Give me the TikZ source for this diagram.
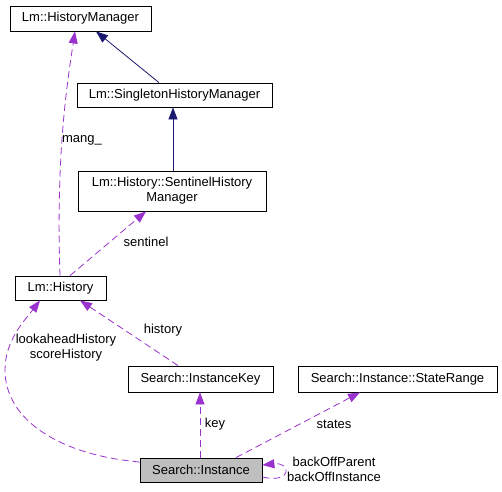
\documentclass[tikz,border=0pt]{standalone}
\usepackage{fontspec}
\setmainfont{Liberation Sans}
\usetikzlibrary{arrows.meta}
\usetikzlibrary{positioning}
\definecolor{inherit}{HTML}{191970}
\definecolor{member}{HTML}{9A32CD}
\definecolor{current}{HTML}{BFBFBF}
\tikzset{
  klass/.style={draw=black, thick, inner sep=0pt, align=center,
    font=\fontsize{13}{15}\selectfont},
  base/.style={draw=inherit, thick, -{Triangle[length=12pt,width=9pt]}},
  uses/.style={draw=member, thick, dash pattern=on 7pt off 4pt,
    -{Triangle[length=12pt,width=9pt,fill=member]}},
  elabel/.style={inner sep=0pt, align=center, font=\fontsize{13}{15}\selectfont}
}
\begin{document}
\begin{tikzpicture}[x=1pt, y=-1pt]
    \useasboundingbox (0,0) rectangle (502,491);

    \node [klass, minimum width=141pt, minimum height=25pt] (hm) at (80.5,18.5) {Lm::HistoryManager};
    \node [klass, minimum width=195pt, minimum height=24pt] (shm) at (174.5,95) {Lm::SingletonHistoryManager};
    \node [klass, minimum width=188pt, minimum height=40pt] (sent) at (172,191) {Lm::History::SentinelHistory\\Manager};
    \node [klass, minimum width=91pt, minimum height=24pt] (hist) at (60.5,288) {Lm::History};
    \node [klass, minimum width=145pt, minimum height=26pt] (ikey) at (200.5,379) {Search::InstanceKey};
    \node [klass, minimum width=199pt, minimum height=26pt] (srange) at (397.5,379) {Search::Instance::StateRange};
    \node [klass, fill=current, minimum width=122pt, minimum height=24pt] (inst) at (201,470) {Search::Instance};

    \draw [base] (shm.north -| 159,0) -- (hm.south -| 96,0);
    \draw [base] (sent.north -| 173,0) -- (shm.south -| 173,0);

    \draw [uses] (hist.north -| 60,0) .. controls (56,160) and (66,90) .. (hm.south -| 75,0);
    \draw [uses] (hist.north -| 70,0) -- (sent.south -| 146,0);
    \draw [uses] (ikey.north -| 178,0) -- (hist.south -| 80,0);
    \draw [uses] (inst.west |- 0,462) .. controls (60,455) and (5,420) .. (5,370)
      .. controls (5,340) and (25,320) .. (hist.south -| 40,0);
    \draw [uses] (inst.north -| 200,0) -- (ikey.south -| 200,0);
    \draw [uses] (inst.north -| 236,0) -- (srange.south -| 360,0);
    \draw [uses] (inst.east |- 0,477) .. controls (292,484) and (292,462) .. (inst.east |- 0,465);

    \node [elabel] (lmang) at (82,140) {mang\_};
    \node [elabel] (lsent) at (146,242) {sentinel};
    \node [elabel] (lhist) at (163,330) {history};
    \node [elabel] (lhists) at (66,348) {lookaheadHistory\\scoreHistory};
    \node [elabel] (lkey) at (215,424) {key};
    \node [elabel] (lstates) at (334,424) {states};
    \node [elabel] (lback) at (334,469) {backOffParent\\backOffInstance};
\end{tikzpicture}
\end{document}
